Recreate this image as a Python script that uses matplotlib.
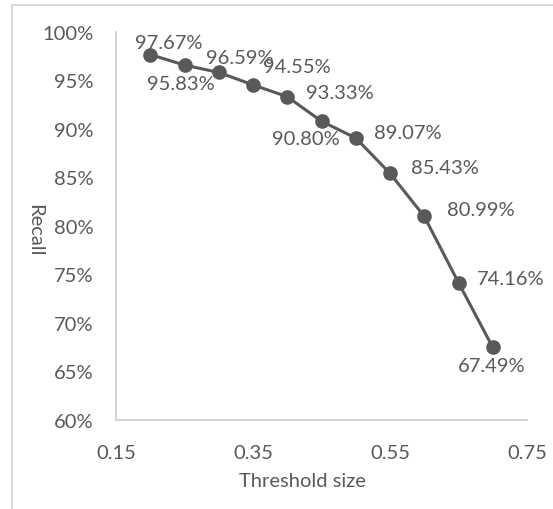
import matplotlib
matplotlib.use("Agg")
import matplotlib.pyplot as plt
from matplotlib.patches import Rectangle
from matplotlib.ticker import FuncFormatter

plt.rcParams['font.family'] = ['Lato', 'DejaVu Sans']

# data
threshold = [0.20, 0.25, 0.30, 0.35, 0.40, 0.45, 0.50, 0.55, 0.60, 0.65, 0.70]
recall = [97.67, 96.59, 95.83, 94.55, 93.33, 90.80, 89.07, 85.43, 80.99, 74.16, 67.49]
x_ticks = [0.15, 0.35, 0.55, 0.75]
y_ticks = [60, 65, 70, 75, 80, 85, 90, 95, 100]

# label offsets in pixels (hand placed, like the original)
label_offsets = [(19, 12), (55, 8), (-38, -11), (44, 18), (53, 4), (-16, -17),
                 (52, 6), (55, 6), (57, 7), (52, 4), (-1, -18)]

grey = '#595959'
light = '#d0d0d0'
fs = 14.5

fig = plt.figure(figsize=(5.53, 5.10), dpi=100)
ax = fig.add_axes([116 / 553, 1 - 421 / 510, 411 / 553, 388 / 510])

ax.plot(threshold, recall, color=grey, lw=2.2, marker='o', ms=9.5, zorder=3)

for x, y, (dx, dy) in zip(threshold, recall, label_offsets):
    ax.annotate(f'{y:.2f}%', (x, y), xytext=(dx, dy), textcoords='offset pixels',
                ha='center', va='center', fontsize=fs, color=grey, zorder=4)

ax.set_xlim(0.15, 0.75)
ax.set_ylim(60, 100)
ax.set_xticks(x_ticks)
ax.set_xticklabels([f'{t:.2f}' for t in x_ticks])
ax.set_yticks(y_ticks)
ax.yaxis.set_major_formatter(FuncFormatter(lambda v, p: f'{v:.0f}%'))
ax.tick_params(length=0, labelsize=fs, colors=grey)
ax.tick_params(axis='y', pad=16)
ax.tick_params(axis='x', pad=17)

for s in ['top', 'right']:
    ax.spines[s].set_visible(False)
for s in ['left', 'bottom']:
    ax.spines[s].set_color(light)
    ax.spines[s].set_linewidth(1.3)

ax.set_xlabel('Threshold size', fontsize=fs, color=grey)
ax.xaxis.set_label_coords(0.453, -0.157)
ax.xaxis.label.set_va('center')
ax.set_ylabel('Recall', fontsize=fs, color=grey, rotation=-90)
ax.yaxis.set_label_coords(-0.197, 0.492)
ax.yaxis.label.set_va('center')

# chart border, cut off at the right and bottom
fig.patches.append(Rectangle((12 / 553, -0.05), 1.1, 1.05 - 6 / 510,
                             transform=fig.transFigure, fill=False,
                             edgecolor='#d9d9d9', lw=1.5))

fig.savefig('out.png', dpi=100)
